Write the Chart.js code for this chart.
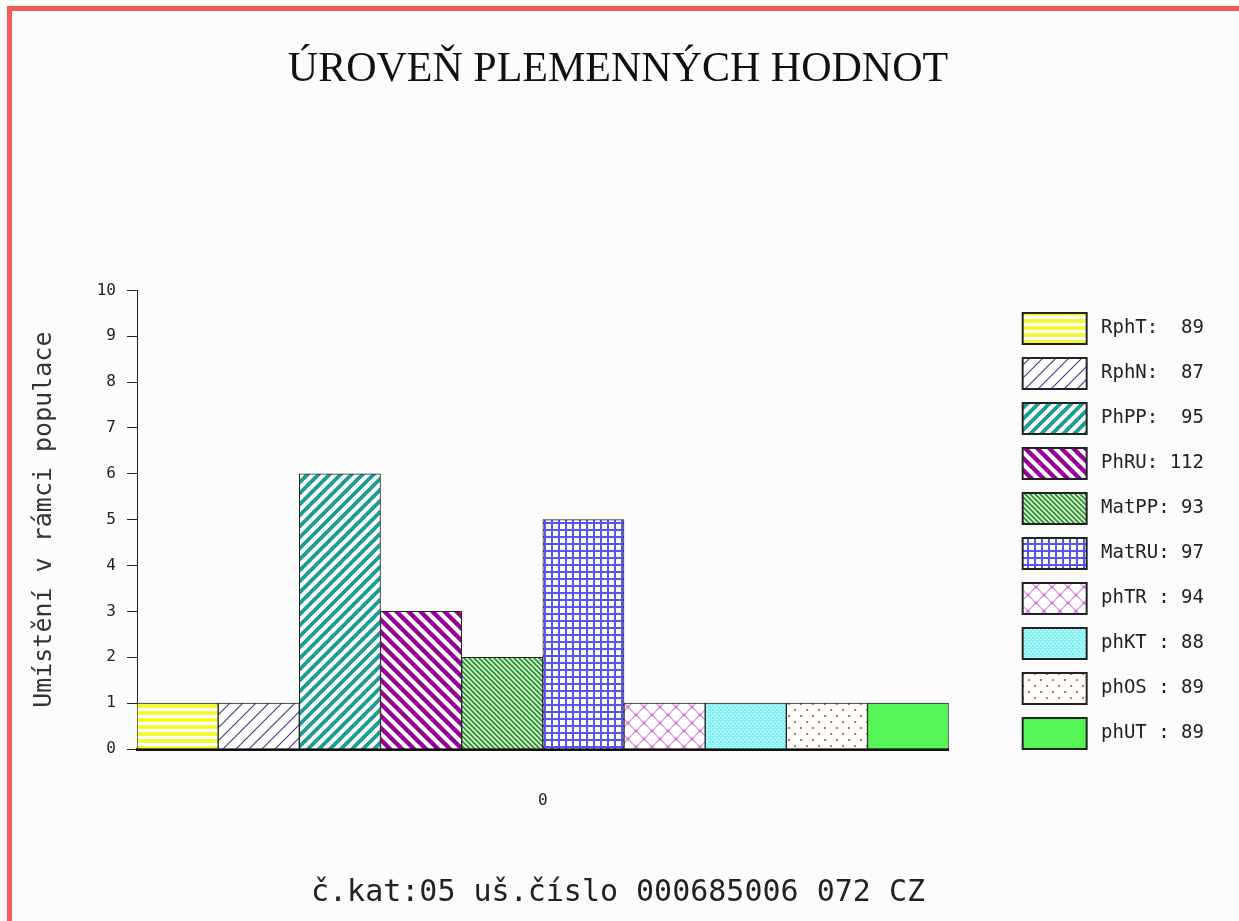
<!DOCTYPE html>
<html>
<head>
<meta charset="utf-8">
<script src="https://cdn.jsdelivr.net/npm/chart.js@4.4.1/dist/chart.umd.min.js"></script>
<style>
  body { margin: 0; background: #ffffff; }
  #frame {
    position: absolute;
    left: 7px;
    top: 6px;
    width: 1227px;
    height: 910px;
    border-top: 5px solid #f45a5a;
    border-left: 5px solid #f45a5a;
    background: #fcfcfc;
  }
</style>
</head>
<body>
<div id="frame"><canvas id="myChart" width="1227" height="910"></canvas></div>
<script>
const CATEGORIES = ["0"];
const SERIES_NAMES = ["RphT:", "RphN:", "PhPP:", "PhRU:", "MatPP:", "MatRU:", "phTR :", "phKT :", "phOS :", "phUT :"];
const BREEDING_VALUES = [89, 87, 95, 112, 93, 97, 94, 88, 89, 89];
const RANKS = [1, 1, 6, 3, 2, 5, 1, 1, 1, 1];
const Y_TICKS = [0, 1, 2, 3, 4, 5, 6, 7, 8, 9, 10];

const TITLE = "ÚROVEŇ PLEMENNÝCH HODNOT";
const FOOTER = "č.kat:05 uš.číslo 000685006 072 CZ";
const Y_TITLE = "Umístění v rámci populace";

function makePattern(size, draw) {
  const canvas = document.createElement("canvas");
  canvas.width = size;
  canvas.height = size;
  const ctx = canvas.getContext("2d");
  ctx.fillStyle = "#ffffff";
  ctx.fillRect(0, 0, size, size);
  draw(ctx, size);
  return document.getElementById("myChart").getContext("2d").createPattern(canvas, "repeat");
}

// diagonal lines, drawn past the tile edges so the repeats join without gaps
function diagonal(ctx, size, color, width, up) {
  ctx.strokeStyle = color;
  ctx.lineWidth = width;
  ctx.beginPath();
  for (let k = -2; k <= 2; k++) {
    if (up) {
      ctx.moveTo(k * size - size, 2 * size);
      ctx.lineTo(k * size + 2 * size, -size);
    } else {
      ctx.moveTo(k * size - size, -size);
      ctx.lineTo(k * size + 2 * size, 2 * size);
    }
  }
  ctx.stroke();
}

const PATTERNS = [
  makePattern(7, (ctx) => {
    ctx.fillStyle = "#f7f73a";
    ctx.fillRect(0, 0, 7, 4);
  }),
  makePattern(13, (ctx, s) => diagonal(ctx, s, "#45408f", 1.2, true)),
  makePattern(11, (ctx, s) => diagonal(ctx, s, "#1c9c96", 3.8, true)),
  makePattern(12, (ctx, s) => diagonal(ctx, s, "#970097", 4.4, false)),
  makePattern(5, (ctx, s) => {
    ctx.fillStyle = "#d8f0d8";
    ctx.fillRect(0, 0, s, s);
    diagonal(ctx, s, "#2a942a", 1.8, false);
  }),
  makePattern(7, (ctx) => {
    ctx.fillStyle = "#5555f2";
    ctx.fillRect(0, 0, 7, 2);
    ctx.fillRect(0, 0, 2, 7);
  }),
  makePattern(16, (ctx, s) => {
    diagonal(ctx, s, "#e08ae0", 1.2, true);
    diagonal(ctx, s, "#e08ae0", 1.2, false);
    ctx.fillStyle = "#d66ad6";
    ctx.beginPath();
    [[8, 8], [0, 0], [16, 0], [0, 16], [16, 16]].forEach(([px, py]) => {
      ctx.moveTo(px + 1.6, py);
      ctx.arc(px, py, 1.6, 0, Math.PI * 2);
    });
    ctx.fill();
  }),
  makePattern(4, (ctx) => {
    ctx.fillStyle = "#86f4f4";
    ctx.fillRect(0, 0, 4, 4);
    ctx.fillStyle = "#c4fafa";
    ctx.fillRect(0, 0, 2, 1);
    ctx.fillRect(2, 2, 2, 1);
  }),
  makePattern(12, (ctx) => {
    ctx.fillStyle = "#c0783c";
    ctx.fillRect(2, 2, 2, 2);
    ctx.fillRect(8, 8, 2, 2);
  }),
  "#55f555",
];

function legendText(name, value) {
  return name + " " + String(value).padStart(8 - name.length);
}

const datasets = SERIES_NAMES.map((name, i) => ({
  label: legendText(name, BREEDING_VALUES[i]),
  data: [RANKS[i]],
  backgroundColor: PATTERNS[i],
  borderColor: "#222222",
  borderWidth: 1,
  categoryPercentage: 1,
  barPercentage: 1,
}));

const ctx = document.getElementById("myChart").getContext("2d");

new Chart(ctx, {
  type: "bar",
  data: {
    labels: CATEGORIES,
    datasets: datasets,
  },
  options: {
    responsive: false,
    animation: false,
    layout: {
      padding: { left: 20, right: 35, top: 10, bottom: 10 },
    },
    scales: {
      x: {
        grid: { display: false, drawTicks: false },
        border: { display: true, color: "#111111", width: 3 },
        ticks: {
          color: "#222222",
          padding: 42,
          font: { family: "DejaVu Sans Mono", size: 16 },
        },
        afterFit: function (scale) {
          scale.height = 60;
        },
      },
      y: {
        min: 0,
        max: 10,
        afterBuildTicks: function (scale) {
          scale.ticks = Y_TICKS.map((v) => ({ value: v }));
        },
        grid: {
          drawOnChartArea: false,
          drawTicks: true,
          tickLength: 10,
          color: "#222222",
          lineWidth: 1,
        },
        border: { display: true, color: "#222222", width: 1 },
        ticks: {
          color: "#222222",
          padding: 11,
          font: { family: "DejaVu Sans Mono", size: 16 },
        },
        title: {
          display: true,
          text: Y_TITLE,
          color: "#333333",
          padding: 0,
          font: { family: "DejaVu Sans Mono", size: 25, lineHeight: 1 },
        },
        afterFit: function (scale) {
          scale.width = 105;
        },
      },
      gap: {
        type: "linear",
        position: "right",
        grid: { display: false, drawTicks: false },
        border: { display: false },
        ticks: { display: false },
        afterFit: function (scale) {
          scale.width = 60;
        },
      },
    },
    plugins: {
      title: {
        display: true,
        text: TITLE,
        color: "#111111",
        padding: { top: 24, bottom: 195 },
        font: { family: "Liberation Serif", size: 42, weight: "normal", lineHeight: 1.2 },
      },
      subtitle: {
        display: true,
        position: "bottom",
        text: FOOTER,
        color: "#222222",
        padding: { top: 66, bottom: 0 },
        font: { family: "DejaVu Sans Mono", size: 30, lineHeight: 1.2 },
      },
      legend: {
        position: "right",
        align: "start",
        title: {
          display: true,
          text: "",
          padding: { top: 268, bottom: 0 },
          font: { size: 10, lineHeight: 1 },
        },
        labels: {
          boxWidth: 64,
          boxHeight: 31,
          padding: 14,
          color: "#222222",
          textAlign: "right",
          font: { family: "DejaVu Sans Mono", size: 19 },
          generateLabels: function (chart) {
            const items = Chart.defaults.plugins.legend.labels.generateLabels(chart);
            return items.map((item) => ({ ...item, lineWidth: 2, strokeStyle: "#222222" }));
          },
        },
      },
      tooltip: { enabled: false },
    },
  },
});
</script>
</body>
</html>
